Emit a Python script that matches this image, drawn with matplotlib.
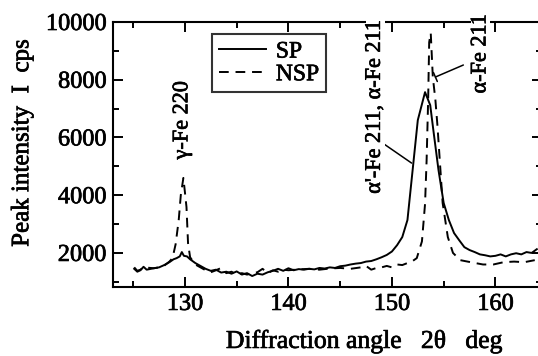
import matplotlib
matplotlib.use("Agg")
from matplotlib import pyplot as plt
from matplotlib import patheffects
from matplotlib.ticker import MultipleLocator

# 数据
sp_x = [125.1, 125.4, 125.7, 126.0, 126.3, 127.0, 127.5, 128.0, 128.5, 128.9,
        129.2, 129.5, 129.7, 129.9, 130.2, 130.5, 131.0, 131.5, 132.0, 132.5,
        133.0, 133.5, 134.0, 134.5, 135.0, 135.5, 136.0, 136.5, 137.0, 137.5,
        138.0, 138.5, 139.0, 139.5, 140.0, 140.5, 141.0, 141.5, 142.0, 142.5,
        143.0, 143.5, 144.0, 144.5, 145.0, 145.5, 146.0, 146.5, 147.0, 147.5,
        148.0, 148.5, 149.0, 149.5, 150.0, 150.5, 151.0, 151.5, 151.8, 152.0,
        152.5, 153.2, 153.7, 154.0, 154.5, 155.0, 155.5, 156.0, 156.5, 157.0,
        157.5, 158.0, 158.5, 159.0, 159.5, 160.0, 160.5, 161.0, 161.5, 162.0,
        162.5, 163.0, 163.5, 164.0]
sp_y = [1450, 1350, 1400, 1520, 1420, 1470, 1500, 1580, 1680, 1780,
        1820, 1880, 2030, 1900, 1880, 1780, 1650, 1550, 1450, 1380,
        1420, 1320, 1350, 1280, 1360, 1250, 1300, 1200, 1280, 1250,
        1330, 1380, 1450, 1380, 1470, 1400, 1440, 1420, 1450, 1430,
        1480, 1460, 1500, 1480, 1540, 1560, 1600, 1630, 1650, 1700,
        1720, 1780, 1850, 1930, 2050, 2270, 2550, 3140, 4180, 4870,
        6600, 7570, 7120, 6260, 4870, 3730, 3140, 2690, 2440, 2200,
        2100, 2030, 1950, 1920, 1880, 1900, 1950, 1880, 1950, 1990,
        1950, 2030, 2000, 2130]

nsp_x = [125.1, 125.4, 125.7, 126.0, 127.0, 127.5, 128.0, 128.5, 128.8, 129.1,
         129.4, 129.6, 129.85, 130.0, 130.15, 130.3, 130.5, 131.0, 131.5, 132.0,
         132.5, 133.0, 133.5, 134.0, 134.5, 135.0, 135.5, 136.0, 136.5, 137.0,
         137.5, 138.0, 138.5, 139.0, 139.5, 140.0, 141.0, 142.0, 143.0, 144.0,
         145.0, 146.0, 147.0, 147.5, 148.0, 148.5, 149.0, 149.5, 150.0, 150.5,
         151.0, 151.5, 152.0, 152.4, 152.9, 153.2, 153.35, 153.5, 153.6, 153.75,
         153.95, 154.2, 154.4, 154.9, 155.4, 155.9, 156.6, 157.6, 158.8, 159.8,
         160.8, 161.8, 162.8, 163.8]
nsp_y = [1500, 1380, 1420, 1500, 1470, 1500, 1560, 1700, 1820, 2300,
         3140, 4000, 4600, 4100, 3590, 2340, 1850, 1600, 1500, 1400,
         1330, 1400, 1480, 1300, 1350, 1250, 1300, 1250, 1300, 1330,
         1450, 1300, 1400, 1350, 1420, 1400, 1430, 1450, 1420, 1460,
         1480, 1450, 1500, 1550, 1420, 1480, 1500, 1550, 1500, 1600,
         1580, 1650, 1720, 1820, 2400, 3700, 5200, 7300, 9300, 9620,
         8100, 7300, 6400, 3730, 2550, 2000, 1750, 1680, 1600, 1600,
         1680, 1700, 1680, 1750]

plt.rcParams['font.family'] = ['Liberation Serif', 'DejaVu Serif']

fig = plt.figure(figsize=(5.38, 3.56), dpi=100)
ax = fig.add_axes([113 / 538, 1 - 287 / 356, 429 / 538, 265 / 356])

ax.plot(sp_x, sp_y, color='black', linewidth=1.4, label='SP')
ax.plot(nsp_x, nsp_y, color='black', linewidth=1.4, dashes=(5, 3.5), label='NSP')

ax.set_xlim(123.05, 164.5)
ax.set_ylim(820, 10000)

ax.xaxis.set_major_locator(MultipleLocator(10))
ax.xaxis.set_minor_locator(MultipleLocator(5))
ax.yaxis.set_major_locator(MultipleLocator(2000))
ax.yaxis.set_minor_locator(MultipleLocator(1000))
ax.tick_params(which='both', direction='in', top=True, right=True, width=1.4,
               labelsize=17.5)
ax.tick_params(which='major', length=7, pad=5)
ax.tick_params(which='minor', length=4.5)
for s in ax.spines.values():
    s.set_linewidth(1.5)

ax.set_xlabel('Diffraction angle   2\u03b8   deg', fontsize=18.5)
ax.set_ylabel('Peak intensity  I  cps', fontsize=18)
ax.xaxis.set_label_coords(0.587, -0.162)
ax.yaxis.set_label_coords(-0.186, 0.543)

leg = ax.legend(loc='upper left', bbox_to_anchor=(0.231, 0.955), fontsize=17,
                frameon=True, fancybox=False, handlelength=2.0,
                borderpad=0.3, labelspacing=0.05, handletextpad=0.4,
                borderaxespad=0)
leg.get_frame().set_edgecolor('black')
leg.get_frame().set_linewidth(1.5)

# 标注
box = dict(facecolor='white', edgecolor='none', pad=0)
ax.text(129.8, 6600, '\u03b3-Fe 220', rotation=90, ha='center', va='center',
        fontsize=16)
ax.text(148.4, 7060, "\u03b1'-Fe 211, \u03b1-Fe 211", rotation=90, ha='center',
        va='center', fontsize=16, bbox=box, clip_on=False, zorder=5)
ax.text(158.6, 8900, '\u03b1-Fe 211', rotation=90, ha='center', va='center',
        fontsize=16, bbox=box, clip_on=False, zorder=5)
ax.annotate('', xy=(151.9, 5113), xytext=(149.1, 5806),
            arrowprops=dict(arrowstyle='-', color='black', lw=1.1,
                            shrinkA=0, shrinkB=0))
ax.annotate('', xy=(154.2, 8094), xytext=(156.9, 8510),
            arrowprops=dict(arrowstyle='-[, widthB=0.35, lengthB=0',
                            color='black', lw=1.1, shrinkA=0, shrinkB=0))

# 文字加粗一点，接近扫描件效果
fx = [patheffects.withStroke(linewidth=0.5, foreground='black')]
for t in fig.findobj(matplotlib.text.Text):
    t.set_path_effects(fx)

plt.savefig('out.png', dpi=100)
